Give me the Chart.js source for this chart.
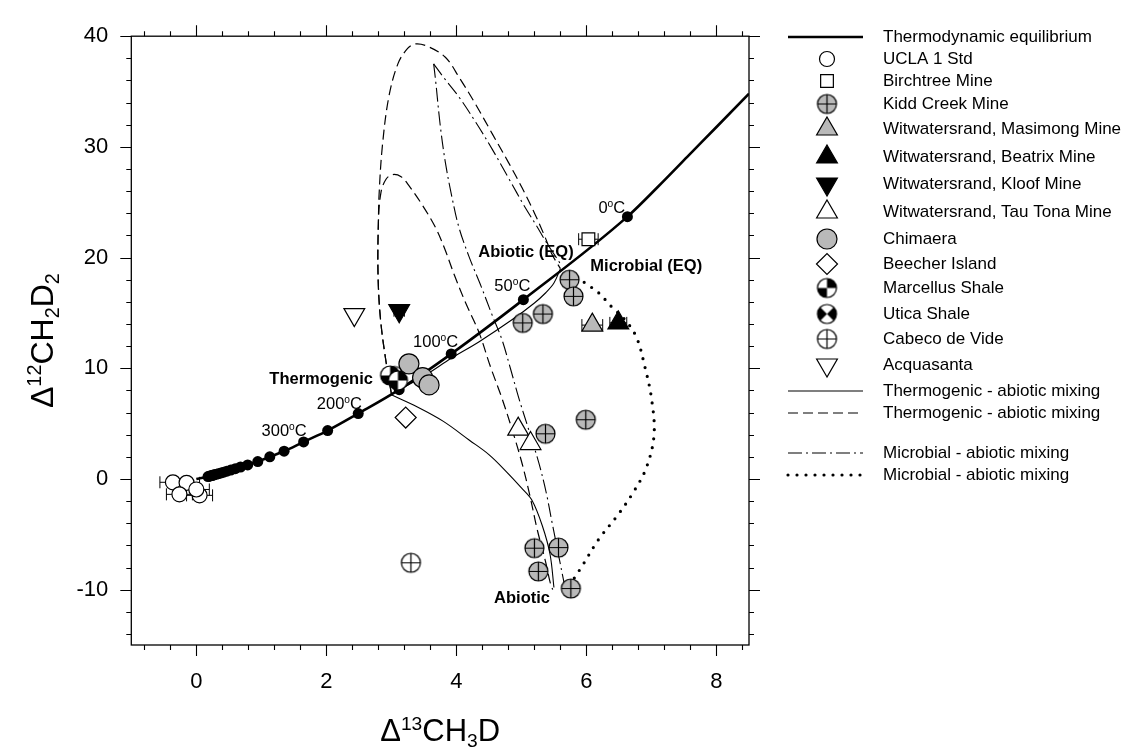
<!DOCTYPE html>
<html lang="en">
<head>
<meta charset="UTF-8">
<title>Clumped methane isotopologues</title>
<style>
    html, body {
        margin: 0;
        padding: 0;
        background: #ffffff;
    }
    #wrap {
        width: 1127px;
        height: 751px;
    }
</style>
<script src="https://cdn.jsdelivr.net/npm/chart.js@4"></script>
</head>
<body>
<div id="wrap"><canvas id="chart" width="1127" height="751"></canvas></div>
<script>
// ---- axes ----
const xTicks = [0, 2, 4, 6, 8];
const yTicks = [-10, 0, 10, 20, 30, 40];

// ---- equilibrium curve and its temperature dots ----
const eqLineX = [0, 0.17, 0.30, 0.46, 0.59, 0.79, 0.945, 1.13, 1.35, 1.65, 2.02, 2.49, 3.12, 3.92, 5.03, 6.63, 7.10, 7.55, 8.00, 8.50];
const eqLineY = [0, 0.20, 0.42, 0.68, 0.90, 1.27, 1.57, 2.00, 2.51, 3.35, 4.37, 5.91, 8.07, 11.3, 16.2, 23.7, 26.4, 29.1, 31.8, 34.8];
const eqDotX = [6.63, 5.03, 3.92, 3.12, 2.49, 2.02, 1.65, 1.35, 1.13, 0.945, 0.79, 0.68, 0.60, 0.53, 0.47, 0.42, 0.38, 0.34, 0.31, 0.28, 0.26, 0.24, 0.22, 0.20, 0.18];
const eqDotY = [23.7, 16.2, 11.3, 8.07, 5.91, 4.37, 3.35, 2.51, 2.00, 1.57, 1.27, 1.08, 0.93, 0.80, 0.70, 0.61, 0.55, 0.48, 0.43, 0.39, 0.35, 0.31, 0.28, 0.25, 0.22];

// ---- mixing curves ----
const thermoAbioX = [2.99, 3.40, 3.80, 4.20, 4.50, 4.77, 5.00, 5.16, 5.32, 5.44, 5.50];
const thermoAbioY = [7.62, 6.50, 5.20, 3.50, 2.20, 0.65, -0.80, -1.90, -4.20, -6.80, -9.80];
const thermoEqX = [2.99, 3.50, 3.92, 4.35, 4.86, 5.20, 5.37, 5.50, 5.60];
const thermoEqY = [7.62, 9.30, 10.9, 12.4, 14.4, 15.9, 16.8, 17.7, 19.0];
const outerDashX = [3.00, 2.92, 2.84, 2.80, 2.79, 2.80, 2.81, 2.86, 2.96, 3.10, 3.25, 3.37, 3.55, 3.83, 4.05, 4.29, 4.55, 4.80, 5.01, 5.21, 5.36, 5.47, 5.60];
const outerDashY = [7.70, 10.5, 14.0, 17.4, 20.0, 23.1, 25.6, 30.0, 34.5, 37.5, 38.9, 39.3, 39.1, 38.1, 36.2, 33.9, 31.2, 28.6, 26.3, 23.9, 21.9, 20.3, 19.0];
const innerDashX = [3.00, 2.92, 2.84, 2.80, 2.80, 2.84, 2.92, 3.02, 3.15, 3.27, 3.47, 3.68, 3.82, 3.97, 4.15, 4.35, 4.52, 4.70, 4.86, 5.01, 5.13, 5.24, 5.37, 5.44, 5.48];
const innerDashY = [7.70, 10.5, 14.0, 17.4, 23.1, 25.9, 27.1, 27.5, 27.3, 26.5, 24.8, 22.7, 20.8, 18.4, 15.8, 13.2, 10.2, 7.30, 4.40, 1.40, -1.50, -4.50, -7.45, -9.30, -10.0];
const microLeftX = [3.65, 3.68, 3.75, 3.83, 3.93, 4.04, 4.20, 4.38, 4.55, 4.70, 4.83, 4.96, 5.12, 5.27, 5.38, 5.47, 5.57, 5.67];
const microLeftY = [37.5, 36.0, 32.0, 28.6, 25.5, 22.7, 20.0, 17.4, 14.8, 12.6, 10.0, 7.30, 4.30, 1.40, -1.20, -3.90, -6.85, -9.80];
const microRightX = [3.65, 3.80, 4.04, 4.30, 4.55, 4.80, 5.06, 5.23, 5.37, 5.57, 5.62];
const microRightY = [37.5, 36.3, 34.5, 32.2, 29.8, 27.2, 24.5, 22.9, 21.5, 19.7, 19.2];
const microDotX = [5.74, 5.98, 6.19, 6.38, 6.59, 6.77, 6.90, 7.00, 7.04, 6.92, 6.71, 6.47, 6.19, 5.94, 5.83, 5.74];
const microDotY = [18.7, 17.7, 16.8, 15.6, 14.4, 12.8, 10.1, 7.30, 4.00, 1.00, -1.30, -3.35, -5.44, -7.80, -8.80, -9.60];

// ---- samples ----
const uclaX = [-0.36, -0.15, -0.26, 0.05, 0.00];
const uclaY = [-0.30, -0.35, -1.39, -1.48, -0.95];
const uclaErr = [0.2, 0.2, 0.2, 0.2, 0.2];
const birchX = [6.03];
const birchY = [21.66];
const birchErr = [0.15];
const kiddX = [5.74, 5.80, 5.02, 5.33, 5.37, 5.99, 5.20, 5.57, 5.26, 5.76];
const kiddY = [18.0, 16.5, 14.1, 14.9, 4.08, 5.35, -6.25, -6.20, -8.35, -9.90];
const masiX = [6.09];
const masiY = [13.9];
const masiErr = [0.16];
const beatX = [6.49];
const beatY = [14.1];
const beatErr = [0.13];
const kloofX = [3.12];
const kloofY = [15.2];
const kloofErr = [0.08];
const tauX = [4.95, 5.14];
const tauY = [4.50, 3.20];
const chimX = [3.27, 3.48, 3.58];
const chimY = [10.4, 9.15, 8.50];
const beechX = [3.22];
const beechY = [5.55];
const marcX = [2.98, 3.10];
const marcY = [9.35, 8.90];
const uticaX = [3.05];
const uticaY = [9.30];
const cabecoX = [3.30];
const cabecoY = [-7.57];
const acquaX = [2.43];
const acquaY = [14.85];

// ---- text on the plot (centre of each label, data units) ----
const tempLabels = ['0', '50', '100', '200', '300'];
const tempLabelX = [6.39, 4.86, 3.68, 2.20, 1.35];
const tempLabelY = [24.6, 17.5, 12.5, 6.89, 4.45];
const tagLabels = ['Thermogenic', 'Abiotic (EQ)', 'Microbial (EQ)', 'Abiotic'];
const tagX = [1.92, 5.07, 6.92, 5.01];
const tagY = [9.16, 20.6, 19.3, -10.7];

const FONT = "'Liberation Sans', Arial, sans-serif";
const GREY = '#b9b9b9';

const pts = (xs, ys) => xs.map((x, i) => ({ x: x, y: ys[i] }));

// small canvases used as point styles for the composite symbols
function makeMarker(r, paint) {
    const c = document.createElement('canvas');
    const s = Math.ceil(2 * r + 4);
    c.width = s;
    c.height = s;
    const g = c.getContext('2d');
    g.translate(s / 2, s / 2);
    g.lineWidth = 1.2;
    g.strokeStyle = '#000';
    paint(g, r);
    return c;
}
function crossCircle(fill) {
    return makeMarker(9.5, (g, r) => {
        g.beginPath();
        g.arc(0, 0, r, 0, 2 * Math.PI);
        g.fillStyle = fill;
        g.fill();
        g.stroke();
        g.beginPath();
        g.moveTo(-r, 0); g.lineTo(r, 0);
        g.moveTo(0, -r); g.lineTo(0, r);
        g.stroke();
    });
}
function wedgeCircle(ranges) {
    return makeMarker(9.5, (g, r) => {
        g.beginPath();
        g.arc(0, 0, r, 0, 2 * Math.PI);
        g.fillStyle = '#fff';
        g.fill();
        g.fillStyle = '#000';
        ranges.forEach(([a0, a1]) => {
            g.beginPath();
            g.moveTo(0, 0);
            g.arc(0, 0, r, a0, a1);
            g.closePath();
            g.fill();
        });
        g.beginPath();
        g.arc(0, 0, r, 0, 2 * Math.PI);
        g.stroke();
    });
}
const P = Math.PI;
const kiddMarker = crossCircle(GREY);
const cabecoMarker = crossCircle('#fff');
const marcMarker = wedgeCircle([[-P / 2, 0], [P / 2, P]]);
const uticaMarker = wedgeCircle([[-P / 4, P / 4], [3 * P / 4, 5 * P / 4]]);

function lineSet(key, label, xs, ys, width, dash, extra) {
    return Object.assign({
        key: key, label: label, data: pts(xs, ys), showLine: true,
        borderColor: '#000', borderWidth: width, borderDash: dash,
        pointRadius: 0, tension: 0.35, fill: false, order: 10
    }, extra || {});
}
function pointSet(key, label, xs, ys, style, radius, fill, extra) {
    return Object.assign({
        key: key, label: label, data: pts(xs, ys), showLine: false,
        pointStyle: style, pointRadius: radius, pointRotation: 0,
        pointBackgroundColor: fill, pointBorderColor: '#000', pointBorderWidth: 1.2,
        order: 1
    }, extra || {});
}

const datasets = [
    lineSet('eq', 'Thermodynamic equilibrium', eqLineX, eqLineY, 2.6, [], { cubicInterpolationMode: 'monotone', order: 6 }),
    pointSet('eqDots', '', eqDotX, eqDotY, 'circle', 5.5, '#000', { pointBorderWidth: 0, order: 5 }),
    lineSet('thermoSolid', 'Thermogenic - abiotic mixing', thermoAbioX, thermoAbioY, 1.1, []),
    lineSet('thermoSolid2', '', thermoEqX, thermoEqY, 1.1, []),
    lineSet('thermoDash', 'Thermogenic - abiotic mixing', outerDashX, outerDashY, 1.2, [10, 5]),
    lineSet('thermoDash2', '', innerDashX, innerDashY, 1.2, [10, 5]),
    lineSet('microDashDot', 'Microbial - abiotic mixing', microLeftX, microLeftY, 1.1, [14, 4, 2, 4]),
    lineSet('microDashDot2', '', microRightX, microRightY, 1.1, [14, 4, 2, 4]),
    lineSet('microDot', 'Microbial - abiotic mixing', microDotX, microDotY, 3.2, [0, 9], { borderCapStyle: 'round' }),
    pointSet('ucla', 'UCLA 1 Std', uclaX, uclaY, 'circle', 7.5, '#fff', { xErr: uclaErr }),
    pointSet('birch', 'Birchtree Mine', birchX, birchY, 'rect', 9, '#fff', { xErr: birchErr }),
    pointSet('kidd', 'Kidd Creek Mine', kiddX, kiddY, kiddMarker, 9.5, GREY),
    pointSet('masi', 'Witwatersrand, Masimong Mine', masiX, masiY, 'triangle', 12, GREY, { xErr: masiErr }),
    pointSet('beat', 'Witwatersrand, Beatrix Mine', beatX, beatY, 'triangle', 12, '#000', { xErr: beatErr }),
    pointSet('kloof', 'Witwatersrand, Kloof Mine', kloofX, kloofY, 'triangle', 12, '#000', { pointRotation: 180, xErr: kloofErr }),
    pointSet('tau', 'Witwatersrand, Tau Tona Mine', tauX, tauY, 'triangle', 12, '#fff'),
    pointSet('chim', 'Chimaera', chimX, chimY, 'circle', 10, GREY),
    pointSet('beech', 'Beecher Island', beechX, beechY, 'rectRot', 10.5, '#fff'),
    pointSet('marc', 'Marcellus Shale', marcX, marcY, marcMarker, 9.5, '#000'),
    pointSet('utica', 'Utica Shale', uticaX, uticaY, uticaMarker, 9.5, '#000'),
    pointSet('cabeco', 'Cabeco de Vide', cabecoX, cabecoY, cabecoMarker, 9.5, '#fff'),
    pointSet('acqua', 'Acquasanta', acquaX, acquaY, 'triangle', 12, '#fff', { pointRotation: 180 })
];

// legend rows: dataset key and text centre line
const legendRows = [
    ['eq', 37], ['ucla', 59], ['birch', 81], ['kidd', 104], ['masi', 129], ['beat', 157],
    ['kloof', 184], ['tau', 212], ['chim', 239], ['beech', 264], ['marc', 288], ['utica', 314],
    ['cabeco', 339], ['acqua', 365], ['thermoSolid', 391], ['thermoDash', 413],
    ['microDashDot', 453], ['microDot', 475]
];

// text with superscripts / subscripts, parts = [[text, 'n'|'sup'|'sub'], ...]
function drawRich(ctx, parts, x, y, size, bold, align) {
    const w = bold ? 'bold ' : '';
    const small = size * 0.62;
    const widths = parts.map(([t, k]) => {
        ctx.font = w + (k === 'n' ? size : small) + 'px ' + FONT;
        return ctx.measureText(t).width;
    });
    const total = widths.reduce((a, b) => a + b, 0);
    let cx = align === 'center' ? x - total / 2 : (align === 'right' ? x - total : x);
    ctx.textAlign = 'left';
    ctx.textBaseline = 'alphabetic';
    parts.forEach(([t, k], i) => {
        ctx.font = w + (k === 'n' ? size : small) + 'px ' + FONT;
        const dy = k === 'sup' ? -size * 0.36 : (k === 'sub' ? size * 0.2 : 0);
        ctx.fillText(t, cx, y + dy);
        cx += widths[i];
    });
}

function range(start, stop, step) {
    const out = [];
    for (let v = start; v <= stop + 1e-9; v += step) out.push(Math.round(v * 100) / 100);
    return out;
}

const extras = {
    id: 'extras',
    beforeDatasetsDraw(chart) {
        // horizontal error bars
        const { ctx, scales: { x, y } } = chart;
        ctx.save();
        ctx.strokeStyle = '#000';
        ctx.lineWidth = 1;
        chart.data.datasets.forEach(ds => {
            if (!ds.xErr) return;
            ds.data.forEach((p, i) => {
                const e = ds.xErr[i];
                const x0 = x.getPixelForValue(p.x - e);
                const x1 = x.getPixelForValue(p.x + e);
                const py = y.getPixelForValue(p.y);
                ctx.beginPath();
                ctx.moveTo(x0, py); ctx.lineTo(x1, py);
                ctx.moveTo(x0, py - 6); ctx.lineTo(x0, py + 6);
                ctx.moveTo(x1, py - 6); ctx.lineTo(x1, py + 6);
                ctx.stroke();
            });
        });
        ctx.restore();
    },
    afterDraw(chart) {
        const { ctx, chartArea: a, scales: { x, y } } = chart;
        ctx.save();
        ctx.strokeStyle = '#000';
        ctx.fillStyle = '#000';

        // frame and outward ticks on all four sides
        ctx.lineWidth = 1.3;
        ctx.strokeRect(a.left, a.top, a.right - a.left, a.bottom - a.top);
        ctx.lineWidth = 1.1;
        const xMinor = range(-0.8, 8.4, 0.4).filter(v => !xTicks.includes(v));
        const yMinor = range(-14, 38, 2).filter(v => !yTicks.includes(v));
        ctx.beginPath();
        [[xTicks, 11], [xMinor, 5]].forEach(([vals, len]) => vals.forEach(v => {
            const px = Math.round(x.getPixelForValue(v)) + 0.5;
            ctx.moveTo(px, a.bottom); ctx.lineTo(px, a.bottom + len);
            ctx.moveTo(px, a.top); ctx.lineTo(px, a.top - len);
        }));
        [[yTicks, 11], [yMinor, 5]].forEach(([vals, len]) => vals.forEach(v => {
            const py = Math.round(y.getPixelForValue(v)) + 0.5;
            ctx.moveTo(a.left, py); ctx.lineTo(a.left - len, py);
            ctx.moveTo(a.right, py); ctx.lineTo(a.right + len, py);
        }));
        ctx.stroke();

        // axis titles
        drawRich(ctx, [['\u0394', 'n'], ['13', 'sup'], ['CH', 'n'], ['3', 'sub'], ['D', 'n']],
            (a.left + a.right) / 2, 741, 31, false, 'center');
        ctx.save();
        ctx.translate(53, (a.top + a.bottom) / 2);
        ctx.rotate(-Math.PI / 2);
        drawRich(ctx, [['\u0394', 'n'], ['12', 'sup'], ['CH', 'n'], ['2', 'sub'], ['D', 'n'], ['2', 'sub']],
            0, 0, 32, false, 'center');
        ctx.restore();

        // temperature labels and end-member tags
        tempLabels.forEach((t, i) => {
            drawRich(ctx, [[t, 'n'], ['o', 'sup'], ['C', 'n']],
                x.getPixelForValue(tempLabelX[i]), y.getPixelForValue(tempLabelY[i]) + 6, 16.5, false, 'center');
        });
        tagLabels.forEach((t, i) => {
            drawRich(ctx, [[t, 'n']],
                x.getPixelForValue(tagX[i]), y.getPixelForValue(tagY[i]) + 6, 16.5, true, 'center');
        });

        // legend
        const byKey = {};
        chart.data.datasets.forEach(ds => { byKey[ds.key] = ds; });
        legendRows.forEach(([key, ly]) => {
            const ds = byKey[key];
            if (ds.showLine) {
                ctx.save();
                ctx.strokeStyle = ds.borderColor;
                ctx.lineWidth = ds.borderWidth;
                ctx.setLineDash(ds.borderDash || []);
                ctx.lineCap = ds.borderCapStyle || 'butt';
                ctx.beginPath();
                ctx.moveTo(788, ly);
                ctx.lineTo(863, ly);
                ctx.stroke();
                ctx.restore();
            } else {
                ctx.save();
                ctx.fillStyle = ds.pointBackgroundColor;
                ctx.strokeStyle = ds.pointBorderColor;
                ctx.lineWidth = ds.pointBorderWidth;
                Chart.helpers.drawPoint(ctx, {
                    pointStyle: ds.pointStyle, rotation: ds.pointRotation || 0,
                    radius: ds.pointRadius, borderWidth: ds.pointBorderWidth
                }, 827, ly);
                ctx.restore();
            }
            ctx.fillStyle = '#000';
            ctx.font = '17px ' + FONT;
            ctx.textAlign = 'left';
            ctx.textBaseline = 'middle';
            ctx.fillText(ds.label, 883, ly);
        });
        ctx.restore();
    }
};

new Chart(document.getElementById('chart'), {
    type: 'scatter',
    data: { datasets: datasets },
    options: {
        responsive: false,
        animation: false,
        events: [],
        layout: { padding: { top: 24.5, right: 378, left: 0, bottom: 0 } },
        plugins: { legend: { display: false }, tooltip: { enabled: false } },
        scales: {
            x: {
                type: 'linear', min: -1, max: 8.5,
                grid: { display: false, drawTicks: false },
                border: { display: false },
                ticks: { color: '#000', font: { size: 22, family: FONT }, padding: 24, maxRotation: 0 },
                afterBuildTicks: s => { s.ticks = xTicks.map(v => ({ value: v })); },
                afterFit: s => { s.height = 106; }
            },
            y: {
                type: 'linear', min: -15, max: 40,
                grid: { display: false, drawTicks: false },
                border: { display: false },
                ticks: { color: '#000', font: { size: 22, family: FONT }, padding: 23 },
                afterBuildTicks: s => { s.ticks = yTicks.map(v => ({ value: v })); },
                afterFit: s => { s.width = 131.3; }
            }
        }
    },
    plugins: [extras]
});
</script>
</body>
</html>
